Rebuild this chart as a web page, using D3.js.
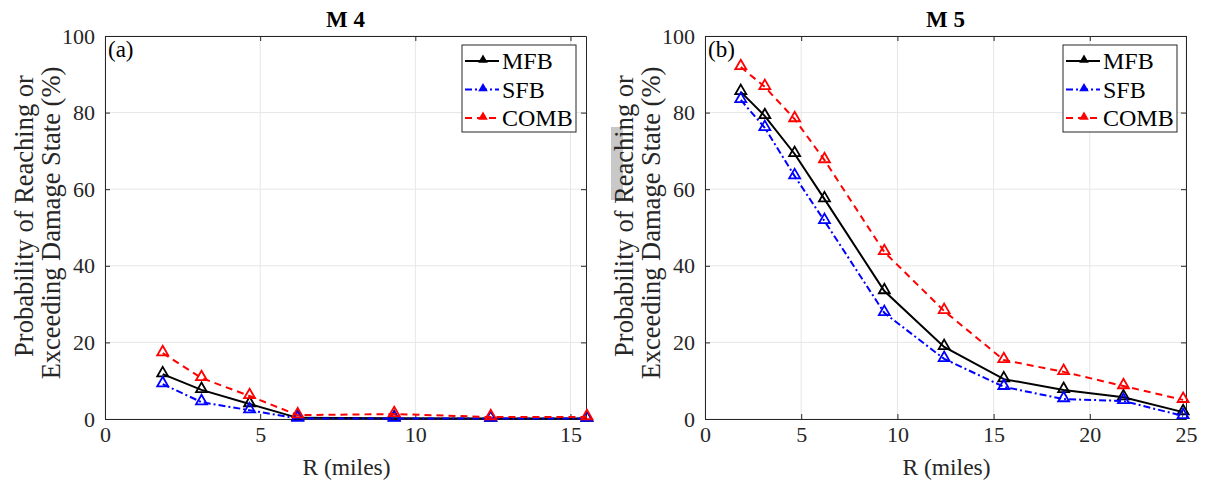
<!DOCTYPE html>
<html>
<head>
<meta charset="utf-8">
<script src="https://cdn.jsdelivr.net/npm/d3@7/dist/d3.min.js"></script>
<style>
  body { margin: 0; background: #fff; }
  svg text { font-family: 'Liberation Serif', 'Times New Roman', serif; }
</style>
</head>
<body>
<div id="chart"></div>
<script>
// distances (miles)
const rM4 = [1.86, 3.11, 4.66, 6.21, 9.32, 12.43, 15.53];
const rM5 = [1.86, 3.11, 4.66, 6.21, 9.32, 12.43, 15.53, 18.64, 21.75, 24.85];

// probability (%) per series
const mfbM4 = [11.7, 7.6, 3.9, 0.3, 0.2, 0.1, 0.1];
const sfbM4 = [9.1, 4.4, 2.3, 0.1, 0.1, 0.1, 0.1];
const combM4 = [17.2, 10.7, 6.0, 1.0, 1.3, 0.5, 0.5];

const mfbM5 = [85.4, 79.1, 69.2, 57.4, 33.4, 18.8, 10.4, 7.6, 5.7, 1.8];
const sfbM5 = [83.3, 76.0, 63.4, 51.7, 27.7, 15.7, 8.4, 5.2, 4.7, 0.8];
const combM5 = [91.9, 86.7, 78.3, 67.6, 43.6, 28.2, 15.4, 12.3, 8.6, 5.0];

const seriesNames = ["MFB", "SFB", "COMB"];
const yTicks = [0, 20, 40, 60, 80, 100];

const styles = {
  MFB: { color: "#000000", dash: null },
  SFB: { color: "#0000ff", dash: "7,3,2,3" },
  COMB: { color: "#ff0000", dash: "7,5" }
};

const serif = "'Liberation Serif', 'Times New Roman', serif";

const svg = d3.select("#chart").append("svg")
  .attr("width", 1206)
  .attr("height", 488)
  .attr("font-family", serif);

const axisColor = "#262626";

function drawPanel(opt) {
  const x = d3.scaleLinear().domain(opt.xDomain).range([opt.left, opt.right]);
  const y = d3.scaleLinear().domain([0, 100]).range([419, 36]);
  const g = svg.append("g");

  // grid
  g.selectAll(".gx").data(opt.xTicks).enter().append("line")
    .attr("x1", d => x(d)).attr("x2", d => x(d))
    .attr("y1", y(0)).attr("y2", y(100))
    .attr("stroke", "#e6e6e6").attr("stroke-width", 1);
  g.selectAll(".gy").data(yTicks).enter().append("line")
    .attr("x1", opt.left).attr("x2", opt.right)
    .attr("y1", d => y(d)).attr("y2", d => y(d))
    .attr("stroke", "#e6e6e6").attr("stroke-width", 1);

  // axes (ticks inward)
  const bottom = g.append("g").attr("transform", `translate(0,${y(0)})`)
    .call(d3.axisBottom(x).tickValues(opt.xTicks).tickSizeInner(-5).tickSizeOuter(0).tickPadding(7));
  const top = g.append("g").attr("transform", `translate(0,${y(100)})`)
    .call(d3.axisTop(x).tickValues(opt.xTicks).tickSizeInner(-5).tickSizeOuter(0).tickFormat(""));
  const left = g.append("g").attr("transform", `translate(${opt.left},0)`)
    .call(d3.axisLeft(y).tickValues(yTicks).tickSizeInner(-5).tickSizeOuter(0).tickPadding(10));
  const right = g.append("g").attr("transform", `translate(${opt.right},0)`)
    .call(d3.axisRight(y).tickValues(yTicks).tickSizeInner(-5).tickSizeOuter(0).tickFormat(""));
  [bottom, top, left, right].forEach(a => {
    a.attr("font-family", serif).attr("font-size", 22);
    a.selectAll("path, line").attr("stroke", axisColor);
    a.selectAll("text").attr("fill", axisColor);
  });

  // data lines
  const line = d3.line().x(d => x(d[0])).y(d => y(d[1]));
  const tri = d3.symbol().type(d3.symbolTriangle).size(52);
  opt.series.forEach(s => {
    const st = styles[s.name];
    const pts = opt.r.map((r, i) => [r, s.values[i]]);
    g.append("path").datum(pts)
      .attr("fill", "none").attr("stroke", st.color).attr("stroke-width", 2)
      .attr("stroke-dasharray", st.dash)
      .attr("d", line);
    g.selectAll(null).data(pts).enter().append("path")
      .attr("d", tri)
      .attr("transform", d => `translate(${x(d[0])},${y(d[1]) - 1})`)
      .attr("fill", "none").attr("stroke", st.color).attr("stroke-width", 1.8);
  });

  // title
  g.append("text").attr("x", (opt.left + opt.right) / 2).attr("y", 27)
    .attr("text-anchor", "middle").attr("font-size", 23).attr("font-weight", "bold")
    .text(opt.title);

  // panel letter
  g.append("text").attr("x", opt.left + 3).attr("y", 57)
    .attr("font-size", 23).text(opt.tag);

  // x label
  g.append("text").attr("x", (opt.left + opt.right) / 2 + 1).attr("y", 475)
    .attr("text-anchor", "middle").attr("font-size", 23.5).attr("fill", axisColor)
    .text("R (miles)");

  // y label (two lines)
  if (opt.highlight) {
    g.append("rect").attr("x", opt.ylabX + 11).attr("y", 127)
      .attr("width", 12).attr("height", 73).attr("fill", "#c8c8c8");
  }
  g.append("text")
    .attr("transform", `translate(${opt.ylabX + 33},216) rotate(-90)`)
    .attr("text-anchor", "middle").attr("font-size", 26.5).attr("fill", axisColor)
    .text("Probability of Reaching or");
  g.append("text")
    .attr("transform", `translate(${opt.ylabX + 60},223) rotate(-90)`)
    .attr("text-anchor", "middle").attr("font-size", 26.5).attr("fill", axisColor)
    .text("Exceeding Damage State (%)");

  // legend
  const lg = g.append("g").attr("transform", `translate(${opt.legX},45)`);
  lg.append("rect").attr("width", 114).attr("height", 87)
    .attr("fill", "#fff").attr("stroke", axisColor).attr("stroke-width", 1);
  seriesNames.forEach((n, i) => {
    const st = styles[n];
    const yy = 16 + i * 28.5;
    lg.append("line").attr("x1", 3).attr("x2", 37).attr("y1", yy).attr("y2", yy)
      .attr("stroke", st.color).attr("stroke-width", 2).attr("stroke-dasharray", st.dash);
    lg.append("path").attr("d", d3.symbol().type(d3.symbolTriangle).size(40))
      .attr("transform", `translate(21,${yy - 1})`).attr("fill", st.color);
    lg.append("text").attr("x", 40).attr("y", yy + 8).attr("font-size", 24).text(n);
  });
}

drawPanel({
  left: 105, right: 586, xDomain: [0, 15.5], xTicks: [0, 5, 10, 15],
  r: rM4, title: "M 4", tag: "(a)", ylabX: 0, legX: 462, highlight: false,
  series: [
    { name: "MFB", values: mfbM4 },
    { name: "SFB", values: sfbM4 },
    { name: "COMB", values: combM4 }
  ]
});

drawPanel({
  left: 705, right: 1186, xDomain: [0, 25], xTicks: [0, 5, 10, 15, 20, 25],
  r: rM5, title: "M 5", tag: "(b)", ylabX: 600, legX: 1063, highlight: true,
  series: [
    { name: "MFB", values: mfbM5 },
    { name: "SFB", values: sfbM5 },
    { name: "COMB", values: combM5 }
  ]
});
</script>
</body>
</html>
